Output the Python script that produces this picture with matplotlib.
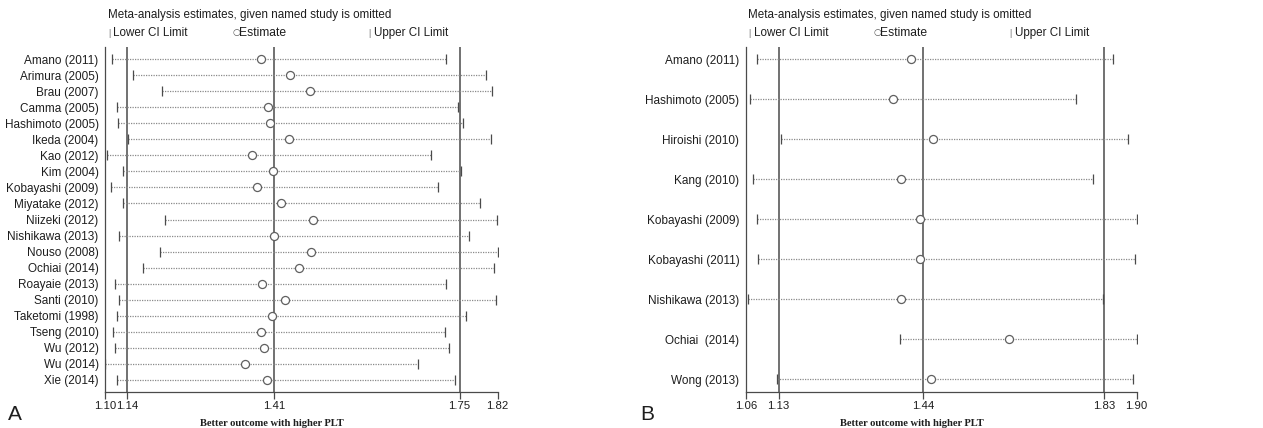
import matplotlib
matplotlib.use("Agg")
import matplotlib.pyplot as plt
import numpy as np

plt.rcParams['font.family'] = ['Liberation Sans', 'DejaVu Sans']

# ---- Panel A data ----
studies_a = ["Amano (2011)", "Arimura (2005)", "Brau (2007)", "Camma (2005)",
             "Hashimoto (2005)", "Ikeda (2004)", "Kao (2012)", "Kim (2004)",
             "Kobayashi (2009)", "Miyatake (2012)", "Niizeki (2012)",
             "Nishikawa (2013)", "Nouso (2008)", "Ochiai (2014)",
             "Roayaie (2013)", "Santi (2010)", "Taketomi (1998)",
             "Tseng (2010)", "Wu (2012)", "Wu (2014)", "Xie (2014)"]
est_a = [1.385, 1.438, 1.476, 1.399, 1.403, 1.437, 1.369, 1.408, 1.378, 1.422,
         1.482, 1.410, 1.477, 1.455, 1.387, 1.430, 1.406, 1.385, 1.391, 1.356, 1.397]
lower_a = [1.112, 1.150, 1.204, 1.121, 1.123, 1.142, 1.104, 1.132, 1.111, 1.132,
           1.209, 1.126, 1.201, 1.169, 1.117, 1.126, 1.121, 1.114, 1.117, 1.100, 1.121]
upper_a = [1.725, 1.798, 1.809, 1.747, 1.756, 1.807, 1.697, 1.753, 1.711, 1.788,
           1.819, 1.767, 1.820, 1.813, 1.725, 1.816, 1.762, 1.723, 1.731, 1.673, 1.742]
overall_a = [1.14, 1.41, 1.75]
xlim_a = [1.10, 1.82]
ticks_a = [1.10, 1.14, 1.41, 1.75, 1.82]

# ---- Panel B data ----
studies_b = ["Amano (2011)", "Hashimoto (2005)", "Hiroishi (2010)", "Kang (2010)",
             "Kobayashi (2009)", "Kobayashi (2011)", "Nishikawa (2013)",
             "Ochiai  (2014)", "Wong (2013)"]
est_b = [1.415, 1.375, 1.462, 1.393, 1.435, 1.434, 1.393, 1.626, 1.458]
lower_b = [1.083, 1.069, 1.136, 1.075, 1.084, 1.086, 1.065, 1.392, 1.126]
upper_b = [1.850, 1.769, 1.882, 1.805, 1.900, 1.896, 1.828, 1.901, 1.891]
overall_b = [1.13, 1.44, 1.83]
xlim_b = [1.06, 1.90]
ticks_b = [1.06, 1.13, 1.44, 1.83, 1.90]

W, H = 1263, 428
fig = plt.figure(figsize=(W / 100, H / 100), dpi=100)

TXT = "#1e1e1e"
REF = "#4a4a4a"
DOT = "#8a8a8a"


def panel(rect, studies, est, lower, upper, overall, xlim, ticks, pad_top, pad_bot):
    ax = fig.add_axes(rect)
    n = len(studies)
    y = np.arange(n)
    for xv in overall:
        ax.axvline(xv, color=REF, lw=1.1, zorder=1)
    ax.hlines(y, lower, upper, colors=DOT, linestyles=(0, (1, 1)), lw=0.9, zorder=2)
    ax.plot(lower, y, ls='none', marker='|', ms=7, mew=0.9, color=REF, zorder=3)
    ax.plot(upper, y, ls='none', marker='|', ms=7, mew=0.9, color=REF, zorder=3)
    ax.plot(est, y, ls='none', marker='o', ms=5.8, mew=0.9, mfc='white', mec='#606060', zorder=4)
    ax.set_xlim(xlim)
    ax.set_ylim(n - 1 + pad_bot, -pad_top)
    ax.set_yticks(y)
    ax.set_yticklabels(studies, fontsize=8.5, color=TXT)
    ax.tick_params(axis='y', length=0, pad=4.8)
    ax.set_xticks(ticks)
    ax.set_xticklabels(["%.2f" % t for t in ticks], fontsize=8.2, color=TXT)
    ax.tick_params(axis='x', length=4.8, width=0.9, color=REF, pad=1.8)
    for s in ['top', 'right']:
        ax.spines[s].set_visible(False)
    for s in ['left', 'bottom']:
        ax.spines[s].set_color(REF)
        ax.spines[s].set_linewidth(0.9)
    ax.set_xlabel("Better outcome with higher PLT", fontfamily='Liberation Serif',
                  fontweight='bold', fontsize=7.6, color=TXT, labelpad=2)
    ax.xaxis.set_label_coords(0.425, -0.08)
    return ax


top_px, bot_px = 47.0, 391.7
rb = (H - bot_px) / H
rh = (bot_px - top_px) / H

axA = panel([105.3 / W, rb, 392.4 / W, rh], studies_a, est_a, lower_a, upper_a,
            overall_a, xlim_a, ticks_a, 0.75, 0.73)
axB = panel([746.0 / W, rb, 390.7 / W, rh], studies_b, est_b, lower_b, upper_b,
            overall_b, xlim_b, ticks_b, 0.30, 0.31)

# headers and legends
FS = 8.4
for x0 in [105.3, 746.0]:
    fig.text((x0 + 2.5) / W, 1 - 15 / H, "Meta-analysis estimates, given named study is omitted",
             fontsize=8.35, color=TXT, va='center', ha='left')
    fig.text((x0 + 2.5) / W, 1 - 33 / H, "|", fontsize=6.5, color='#777777', va='center', ha='left')
    fig.text((x0 + 8) / W, 1 - 33 / H, "Lower CI Limit", fontsize=FS, color=TXT, va='center', ha='left')
    fig.text((x0 + 127) / W, 1 - 33 / H, "\u25cb", fontsize=6.5, color='#555555', va='center', ha='left',
             fontfamily='DejaVu Sans')
    fig.text((x0 + 134) / W, 1 - 33 / H, "Estimate", fontsize=FS + 0.3, color=TXT, va='center', ha='left')
    fig.text((x0 + 263) / W, 1 - 33 / H, "|", fontsize=6.5, color='#777777', va='center', ha='left')
    fig.text((x0 + 269) / W, 1 - 33 / H, "Upper CI Limit", fontsize=FS, color=TXT, va='center', ha='left')

fig.text(8 / W, 1 - 414 / H, "A", fontsize=15, color=TXT, va='center', ha='left')
fig.text(640 / W, 1 - 414 / H, "B", fontsize=15, color=TXT, va='center', ha='left')

fig.savefig("out.png", dpi=100)
